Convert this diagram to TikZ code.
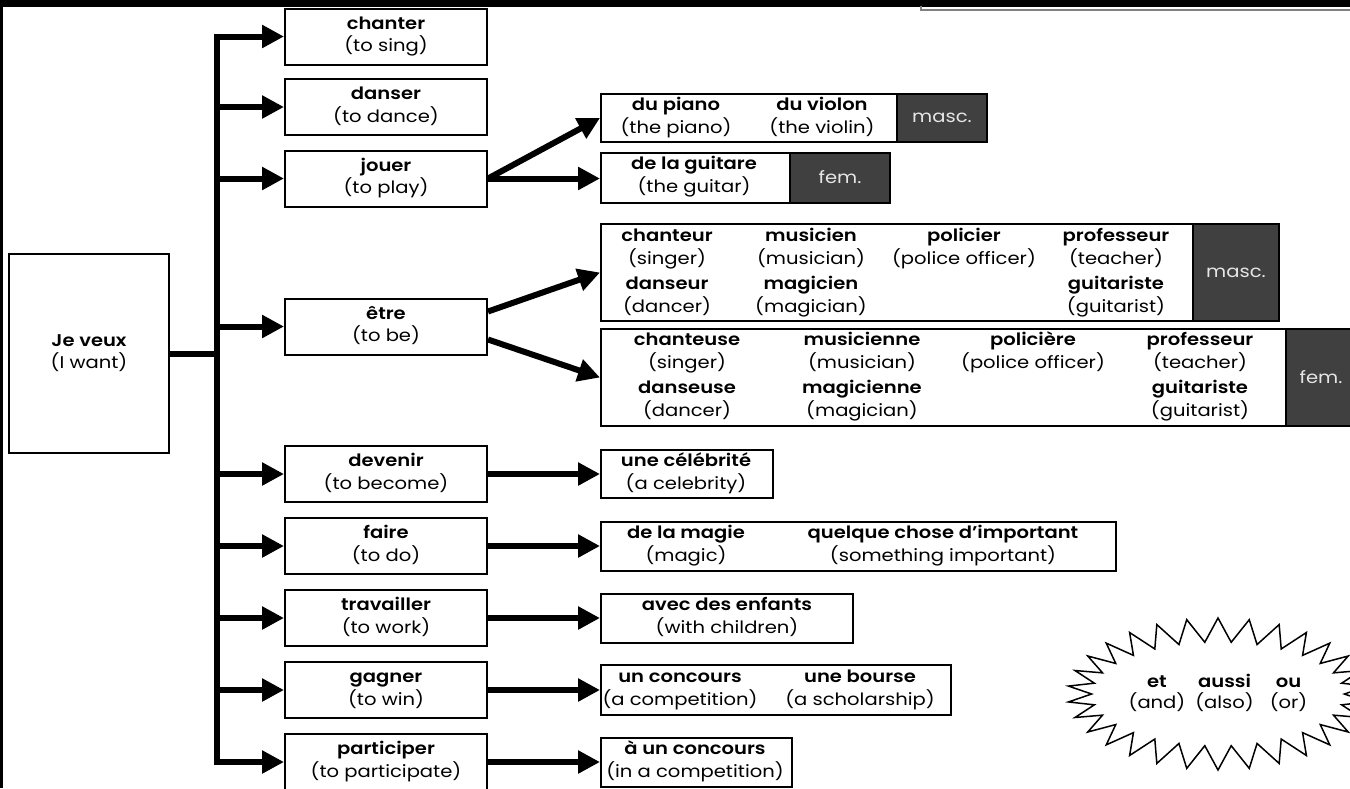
\documentclass[tikz,border=0pt]{standalone}
\usepackage{fontspec}
\setmainfont{Poppins}[FakeStretch=1.15,BoldFont={Poppins SemiBold}]
\usetikzlibrary{arrows.meta,shapes.symbols,calc}
\definecolor{tagfill}{HTML}{404040}
\definecolor{tagtext}{HTML}{E6E6E6}
\newcommand{\wordpair}[2]{\lineskiplimit=-20pt\relax\textbf{#1}\strut\\(#2)\strut}
\tikzset{
	verb/.style={draw,line width=2pt,minimum width=202pt,minimum height=56pt,align=center,inner sep=0pt},
	choice/.style={draw,line width=2pt,anchor=west,inner sep=0pt},
	tag/.style={draw,line width=2pt,fill=tagfill,text=tagtext,anchor=east,inner sep=0pt},
	word/.style={align=center,inner sep=0pt},
	branch/.style={line width=6pt,-{Triangle[length=22pt,width=22pt]}},
}
\begin{document}
\begin{tikzpicture}[x=1pt,y=-1pt,font=\fontsize{17}{19.5}\selectfont]
	\useasboundingbox (0,0) rectangle (1350,788);
	\fill[black] (0,0) rectangle (1350,7);
	\fill[black] (0,0) rectangle (3,788);
	\draw[gray,line width=1.5pt] (921,6) -- (921,10) -- (1350,10);

	\node[draw,line width=2pt,minimum width=160pt,minimum height=199pt,align=center] (veux) at (89,353.5) {\wordpair{Je veux}{I want}};

	\node[verb] (chanter) at (386,36.5) {\wordpair{chanter}{to sing}};
	\node[verb] (danser) at (386,107) {\wordpair{danser}{to dance}};
	\node[verb] (jouer) at (386,178.5) {\wordpair{jouer}{to play}};
	\node[verb] (etre) at (386,326.5) {\wordpair{être}{to be}};
	\node[verb] (devenir) at (386,474) {\wordpair{devenir}{to become}};
	\node[verb] (faire) at (386,546) {\wordpair{faire}{to do}};
	\node[verb] (travailler) at (386,618) {\wordpair{travailler}{to work}};
	\node[verb] (gagner) at (386,690) {\wordpair{gagner}{to win}};
	\node[verb] (participer) at (386,762) {\wordpair{participer}{to participate}};

	\coordinate (trunktop) at (217,33.5);
	\coordinate (trunkbot) at (217,765);
	\draw[line width=6pt] (trunktop) -- (trunkbot);
	\draw[line width=6pt] (veux.east) -- (veux.east -| trunktop);
	\foreach \v in {chanter,danser,jouer,etre,devenir,faire,travailler,gagner,participer}
		\draw[branch] (\v.west -| trunktop) -- (\v.west);

	\node[choice,minimum width=386pt,minimum height=48pt] (instr) at (600,118) {};
	\node[tag,minimum width=90pt,minimum height=48pt] (instrm) at (instr.east) {masc.};
	\node[word] (piano) at (676,118) {\wordpair{du piano}{the piano}};
	\node[word] (violon) at (822,118) {\wordpair{du violon}{the violin}};

	\node[choice,minimum width=289pt,minimum height=50pt] (guit) at (600,177.5) {};
	\node[tag,minimum width=100pt,minimum height=50pt] (guitf) at (guit.east) {fem.};
	\node[word] (guitare) at (694,177) {\wordpair{de la guitare}{the guitar}};

	\node[choice,minimum width=678pt,minimum height=97pt] (metm) at (600,272.5) {};
	\node[tag,minimum width=86pt,minimum height=97pt] (metmt) at (metm.east) {masc.};
	\node[word] (chanteur) at (667,249) {\wordpair{chanteur}{singer}};
	\node[word] (musicien) at (811,249) {\wordpair{musicien}{musician}};
	\node[word] (policier) at (964,249) {\wordpair{policier}{police officer}};
	\node[word] (profm) at (1116,249) {\wordpair{professeur}{teacher}};
	\node[word] (danseur) at (667,297) {\wordpair{danseur}{dancer}};
	\node[word] (magicien) at (811,297) {\wordpair{magicien}{magician}};
	\node[word] (guitm) at (1116,297) {\wordpair{guitariste}{guitarist}};

	\node[choice,minimum width=760pt,minimum height=97pt] (metf) at (600,377.5) {};
	\node[tag,minimum width=70pt,minimum height=97pt,anchor=west] (metft) at (1285,377.5) {fem.};
	\node[word] (chanteuse) at (687,353) {\wordpair{chanteuse}{singer}};
	\node[word] (musicienne) at (862,353) {\wordpair{musicienne}{musician}};
	\node[word] (policiere) at (1033,353) {\wordpair{policière}{police officer}};
	\node[word] (proff) at (1200,353) {\wordpair{professeur}{teacher}};
	\node[word] (danseuse) at (687,401) {\wordpair{danseuse}{dancer}};
	\node[word] (magicienne) at (862,401) {\wordpair{magicienne}{magician}};
	\node[word] (guitf) at (1200,401) {\wordpair{guitariste}{guitarist}};

	\node[choice,minimum width=172pt,minimum height=48pt] (celeb) at (600,474) {};
	\node[word] at (686,474) {\wordpair{une célébrité}{a celebrity}};

	\node[choice,minimum width=515pt,minimum height=49pt] (chose) at (600,546) {};
	\node[word] (magie) at (686,546) {\wordpair{de la magie}{magic}};
	\node[word] (important) at (943,546) {\wordpair{quelque chose d'important}{something important}};

	\node[choice,minimum width=252pt,minimum height=49pt] (enfants) at (600,618) {};
	\node[word] at (727,618) {\wordpair{avec des enfants}{with children}};

	\node[choice,minimum width=350pt,minimum height=50pt] (prix) at (600,690) {};
	\node[word] (concours) at (680,690) {\wordpair{un concours}{a competition}};
	\node[word] (bourse) at (860,690) {\wordpair{une bourse}{a scholarship}};

	\node[choice,minimum width=191pt,minimum height=49pt] (concoursb) at (600,762) {};
	\node[word] at (695,762) {\wordpair{à un concours}{in a competition}};

	\draw[branch] (jouer.east) -- (instr.west);
	\draw[branch] (jouer.east) -- (jouer.east -| guit.west);
	\draw[branch] ($(etre.east)+(0,-15)$) -- (metm.west);
	\draw[branch] ($(etre.east)+(0,13)$) -- (metf.west);
	\foreach \a/\b in {devenir/celeb,faire/chose,travailler/enfants,gagner/prix,participer/concoursb}
		\draw[branch] (\a.east) -- (\a.east -| \b.west);

	\node[starburst,draw,line width=1.5pt,starburst points=30,starburst point height=24pt,random starburst=0,minimum width=265pt,minimum height=152pt,inner sep=0pt] (conj) at (1218,694)
		{\lineskiplimit=-20pt\begin{tabular}{@{}c@{\hspace{10pt}}c@{\hspace{16pt}}c@{}}\textbf{et}\strut&\textbf{aussi}&\textbf{ou}\\(and)\strut&(also)&(or)\end{tabular}};
\end{tikzpicture}
\end{document}
